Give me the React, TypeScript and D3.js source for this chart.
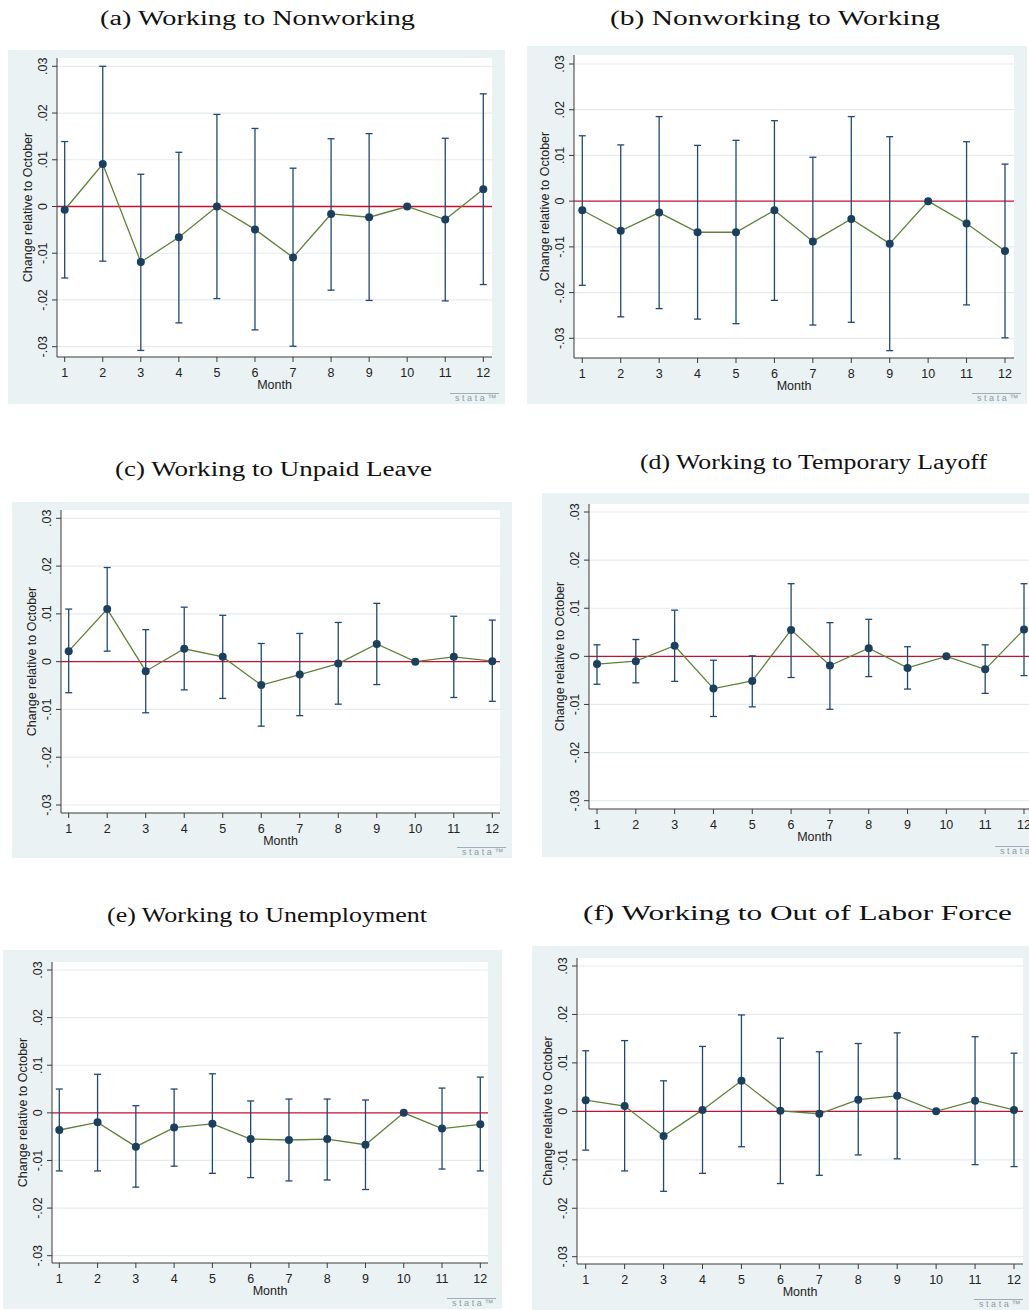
import React from "react";
import * as d3 from "d3";

// Month index on the x axis
const MONTHS = [1, 2, 3, 4, 5, 6, 7, 8, 9, 10, 11, 12];
const Y_TICKS = [-0.03, -0.02, -0.01, 0, 0.01, 0.02, 0.03];
const Y_TICK_LABELS = ["-.03", "-.02", "-.01", "0", ".01", ".02", ".03"];
const X_TITLE = "Month";
const Y_TITLE = "Change relative to October";

const PANEL_TITLES = [
  "(a) Working to Nonworking",
  "(b) Nonworking to Working",
  "(c) Working to Unpaid Leave",
  "(d) Working to Temporary Layoff",
  "(e) Working to Unemployment",
  "(f) Working to Out of Labor Force",
];

// Point estimates and 95% CI bounds; October (10) is the reference month
const estA = [-0.0007, 0.0091, -0.0119, -0.0066, 0, -0.0049, -0.0109, -0.0016, -0.0023, 0, -0.0028, 0.0037];
const hiA = [0.0139, 0.03, 0.0069, 0.0116, 0.0197, 0.0167, 0.0082, 0.0145, 0.0156, null, 0.0146, 0.0241];
const loA = [-0.0153, -0.0117, -0.0308, -0.0249, -0.0197, -0.0264, -0.0299, -0.0179, -0.0201, null, -0.0202, -0.0167];

const estB = [-0.002, -0.0065, -0.0025, -0.0068, -0.0068, -0.002, -0.0088, -0.0039, -0.0093, 0, -0.0049, -0.0109];
const hiB = [0.0143, 0.0123, 0.0185, 0.0122, 0.0133, 0.0176, 0.0096, 0.0185, 0.0141, null, 0.013, 0.0081];
const loB = [-0.0184, -0.0253, -0.0235, -0.0258, -0.0268, -0.0217, -0.0271, -0.0265, -0.0327, null, -0.0227, -0.0299];

const estC = [0.0022, 0.011, -0.002, 0.0027, 0.001, -0.0049, -0.0027, -0.0004, 0.0037, 0, 0.001, 0.0001];
const hiC = [0.011, 0.0197, 0.0067, 0.0114, 0.0097, 0.0038, 0.0059, 0.0082, 0.0122, null, 0.0095, 0.0087];
const loC = [-0.0065, 0.0022, -0.0107, -0.0059, -0.0077, -0.0135, -0.0113, -0.0089, -0.0048, null, -0.0075, -0.0083];

const estD = [-0.0016, -0.001, 0.0022, -0.0067, -0.0051, 0.0055, -0.0019, 0.0017, -0.0024, 0, -0.0027, 0.0056];
const hiD = [0.0024, 0.0035, 0.0096, -0.0008, 0.0001, 0.0151, 0.007, 0.0077, 0.002, null, 0.0024, 0.0151];
const loD = [-0.0058, -0.0055, -0.0052, -0.0125, -0.0105, -0.0044, -0.011, -0.0042, -0.0068, null, -0.0077, -0.004];

const estE = [-0.0036, -0.002, -0.0071, -0.0031, -0.0023, -0.0055, -0.0057, -0.0055, -0.0067, 0, -0.0033, -0.0024];
const hiE = [0.005, 0.0081, 0.0015, 0.005, 0.0082, 0.0025, 0.0029, 0.0029, 0.0027, null, 0.0052, 0.0075];
const loE = [-0.0122, -0.0122, -0.0156, -0.0112, -0.0127, -0.0136, -0.0143, -0.0141, -0.0161, null, -0.0118, -0.0122];

const estF = [0.0023, 0.0011, -0.0051, 0.0003, 0.0063, 0.0001, -0.0005, 0.0024, 0.0032, 0, 0.0022, 0.0003];
const hiF = [0.0125, 0.0146, 0.0063, 0.0134, 0.0199, 0.0151, 0.0123, 0.014, 0.0162, null, 0.0154, 0.012];
const loF = [-0.008, -0.0123, -0.0165, -0.0128, -0.0073, -0.0149, -0.0132, -0.009, -0.0098, null, -0.011, -0.0114];

const SERIES = [
  { est: estA, lo: loA, hi: hiA },
  { est: estB, lo: loB, hi: hiB },
  { est: estC, lo: loC, hi: hiC },
  { est: estD, lo: loD, hi: hiD },
  { est: estE, lo: loE, hi: hiE },
  { est: estF, lo: loF, hi: hiF },
];

// Page layout of each graph: outer region, plot region, axis anchors, title span
const LAYOUT = [
  { bg: [8, 50, 505, 404], plot: [57, 58, 492, 357], xr: [64.7, 483.3], yr: [346.7, 66.3], title: [100, 415, 25] },
  { bg: [527, 46, 1027, 404], plot: [574, 55, 1014, 358], xr: [582.3, 1005], yr: [338.3, 64], title: [610, 940, 25] },
  { bg: [12, 502, 512, 858], plot: [61, 510, 500, 813], xr: [68.7, 492.3], yr: [805, 518.3], title: [115, 432, 476] },
  { bg: [542, 493, 1050, 857], plot: [589, 504, 1040, 809], xr: [597, 1024], yr: [800.7, 512], title: [640, 987, 469] },
  { bg: [3, 950, 502, 1309], plot: [52, 962, 488, 1263], xr: [59.3, 480.3], yr: [1255.7, 970], title: [107, 427, 922] },
  { bg: [532, 946, 1029, 1310], plot: [577, 958, 1023, 1264], xr: [585.7, 1014], yr: [1256.7, 966], title: [583, 1012, 920] },
];

const C = {
  region: "#eaf2f3",
  grid: "#e4ecee",
  axis: "#3a3a3a",
  zero: "#c8102e",
  line: "#5f8236",
  bar: "#1f4a70",
  dot: "#1a3f5f",
  text: "#222",
  logo: "#8c9ba6",
};

const SANS = "'Liberation Sans', Arial, sans-serif";
const SERIF = "'Liberation Serif', 'DejaVu Serif', serif";

function Panel({ idx }: { idx: number }) {
  const L = LAYOUT[idx];
  const S = SERIES[idx];
  const [bx0, by0, bx1, by1] = L.bg;
  const [px0, py0, px1, py1] = L.plot;
  const x = d3.scaleLinear().domain([1, 12]).range(L.xr);
  const y = d3.scaleLinear().domain([-0.03, 0.03]).range(L.yr);
  const pts = MONTHS.map((m, i) => ({ m, v: S.est[i], lo: S.lo[i], hi: S.hi[i] }));
  const line = d3
    .line<{ m: number; v: number }>()
    .x((d) => x(d.m))
    .y((d) => y(d.v));
  const cap = 3.5;
  const ycen = (py0 + py1) / 2;
  const xcen = (px0 + px1) / 2;
  const [tx0, tx1, ty] = L.title;

  return (
    <g>
      <text
        x={tx0}
        y={ty}
        textLength={tx1 - tx0}
        lengthAdjust="spacingAndGlyphs"
        fontFamily={SERIF}
        fontSize={20}
        fill="#111"
      >
        {PANEL_TITLES[idx]}
      </text>
      <rect x={bx0} y={by0} width={bx1 - bx0} height={by1 - by0} fill={C.region} />
      <rect x={px0} y={py0} width={px1 - px0} height={py1 - py0} fill="#fff" />
      {Y_TICKS.filter((t) => t !== 0).map((t) => (
        <line key={"g" + t} x1={px0} x2={px1} y1={y(t)} y2={y(t)} stroke={C.grid} strokeWidth={1.2} />
      ))}
      <line x1={px0} x2={px1} y1={y(0)} y2={y(0)} stroke={C.zero} strokeWidth={1.4} />
      {pts
        .filter((d) => d.lo !== null && d.hi !== null)
        .map((d) => (
          <g key={"ci" + d.m} stroke={C.bar} strokeWidth={1.3}>
            <line x1={x(d.m)} x2={x(d.m)} y1={y(d.lo as number)} y2={y(d.hi as number)} />
            <line x1={x(d.m) - cap} x2={x(d.m) + cap} y1={y(d.hi as number)} y2={y(d.hi as number)} />
            <line x1={x(d.m) - cap} x2={x(d.m) + cap} y1={y(d.lo as number)} y2={y(d.lo as number)} />
          </g>
        ))}
      <path d={line(pts) || ""} fill="none" stroke={C.line} strokeWidth={1.3} />
      {pts.map((d) => (
        <circle key={"p" + d.m} cx={x(d.m)} cy={y(d.v)} r={4} fill={C.dot} />
      ))}
      {/* axes */}
      <line x1={px0} x2={px0} y1={py0} y2={py1} stroke={C.axis} strokeWidth={1} />
      <line x1={px0} x2={px1} y1={py1} y2={py1} stroke={C.axis} strokeWidth={1} />
      {Y_TICKS.map((t, i) => (
        <g key={"yt" + t}>
          <line x1={px0 - 5} x2={px0} y1={y(t)} y2={y(t)} stroke={C.axis} strokeWidth={1} />
          <text
            transform={`translate(${px0 - 10.5},${y(t)}) rotate(-90)`}
            textAnchor="middle"
            fontFamily={SANS}
            fontSize={12.5}
            fill={C.text}
          >
            {Y_TICK_LABELS[i]}
          </text>
        </g>
      ))}
      {MONTHS.map((m) => (
        <g key={"xt" + m}>
          <line x1={x(m)} x2={x(m)} y1={py1} y2={py1 + 5} stroke={C.axis} strokeWidth={1} />
          <text x={x(m)} y={py1 + 20} textAnchor="middle" fontFamily={SANS} fontSize={12.5} fill={C.text}>
            {m}
          </text>
        </g>
      ))}
      <text x={xcen} y={py1 + 32} textAnchor="middle" fontFamily={SANS} fontSize={12.5} fill={C.text}>
        {X_TITLE}
      </text>
      <text
        transform={`translate(${px0 - 25},${ycen}) rotate(-90)`}
        textAnchor="middle"
        fontFamily={SANS}
        fontSize={12.5}
        fill={C.text}
      >
        {Y_TITLE}
      </text>
      {/* software mark */}
      <line x1={bx1 - 55} x2={bx1 - 6} y1={by1 - 10.5} y2={by1 - 10.5} stroke={C.logo} strokeWidth={0.8} />
      <text
        x={bx1 - 6}
        y={by1 - 3}
        textAnchor="end"
        fontFamily={SANS}
        fontSize={9}
        letterSpacing={2.6}
        fill={C.logo}
      >
        stata™
      </text>
    </g>
  );
}

export default function App() {
  return (
    <svg
      width={1029}
      height={1310}
      viewBox="0 0 1029 1310"
      style={{ position: "absolute", left: 0, top: 0, background: "#fff" }}
    >
      <rect x={0} y={0} width={1029} height={1310} fill="#fff" />
      {LAYOUT.map((_, i) => (
        <Panel key={i} idx={i} />
      ))}
    </svg>
  );
}
